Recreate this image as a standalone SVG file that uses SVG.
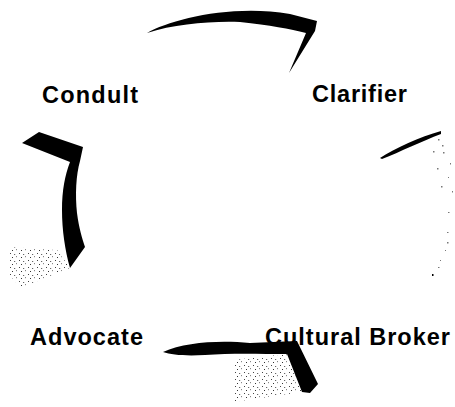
<svg xmlns="http://www.w3.org/2000/svg" width="455" height="407" viewBox="0 0 455 407">
<style>
.lbl{font-family:"Liberation Sans",Arial,sans-serif;font-weight:bold;font-size:23.5px;fill:#000}
.arr{fill:#000;stroke:none}
.spk{fill:url(#speckle);stroke:none}
.dot{fill:#777}
</style>
<defs>
<pattern id="speckle" width="9" height="7" patternUnits="userSpaceOnUse">
<rect x="1" y="1" width="1" height="1" fill="#444"/>
<rect x="5" y="2" width="1.2" height="1" fill="#666"/>
<rect x="3" y="5" width="1" height="1" fill="#333"/>
<rect x="7" y="4" width="1" height="1.2" fill="#888"/>
</pattern>
</defs>
<rect width="455" height="407" fill="#fff"/>
<g id="connectors">
<g id="arrow-conduit-clarifier">
<path class="arr" d="M147,33 C170,20 230,4 290,14 L317,21 L315,31 L289,73 L306,33 C290,29 270,25 240,22 C210,21 175,24 147,33 Z"/>
</g>
<g id="arrow-clarifier-broker">
<path class="arr" d="M380,158 C395,148 420,137 441,131 L441,134 C422,141 400,152 382,159 Z"/>
<g class="dot">
<rect x="438" y="139" width="1.5" height="1.5"/><rect x="442" y="145" width="1.5" height="1.5"/>
<rect x="433" y="151" width="1.5" height="1.5"/><rect x="443" y="152" width="1.5" height="1.5"/>
<rect x="450" y="163" width="1" height="1.5"/><rect x="437" y="168" width="1.5" height="1.5"/>
<rect x="448" y="177" width="1" height="1"/><rect x="441" y="186" width="1.5" height="1.5"/>
<rect x="452" y="191" width="1" height="1.5"/><rect x="448" y="212" width="1.5" height="1"/>
<rect x="447" y="232" width="1.5" height="1"/><rect x="447" y="242" width="1.5" height="1.5"/>
<rect x="445" y="250" width="1" height="1"/><rect x="440" y="260" width="1" height="1"/>
<rect x="438" y="267" width="1.5" height="1"/><rect x="432" y="274" width="1.5" height="2" fill="#000"/>
</g>
</g>
<g id="arrow-broker-advocate">
<path class="spk" d="M233,360 L287,354 L302,392 L233,402 Z"/>
<path class="arr" d="M163,352 C185,342 220,340 250,343 L297,341 L318,384 L310,393 L302,392 L287,354 C260,354 230,353 205,355 C185,356 172,355 163,352 Z"/>
</g>
<g id="arrow-advocate-conduit">
<path class="spk" d="M8,247 L57,250 L70,268 L20,288 L10,275 Z"/>
<path class="arr" d="M22,143 L39,132 L83,147 L80,161 C76,175 75,195 77,213 C79,228 82,238 85,247 L70,268 C65,250 62,230 62,210 C62,190 65,175 70,162 Z"/>
</g>
</g>
<g id="node-conduit"><text class="lbl" x="42" y="103" textLength="96" lengthAdjust="spacing">Condult</text></g>
<g id="node-clarifier"><text class="lbl" x="312" y="102" textLength="95" lengthAdjust="spacing">Clarifier</text></g>
<g id="node-advocate"><text class="lbl" x="30" y="345" textLength="113" lengthAdjust="spacing">Advocate</text></g>
<g id="node-broker"><text class="lbl" x="265" y="345" textLength="185" lengthAdjust="spacing">Cultural Broker</text></g>
</svg>
